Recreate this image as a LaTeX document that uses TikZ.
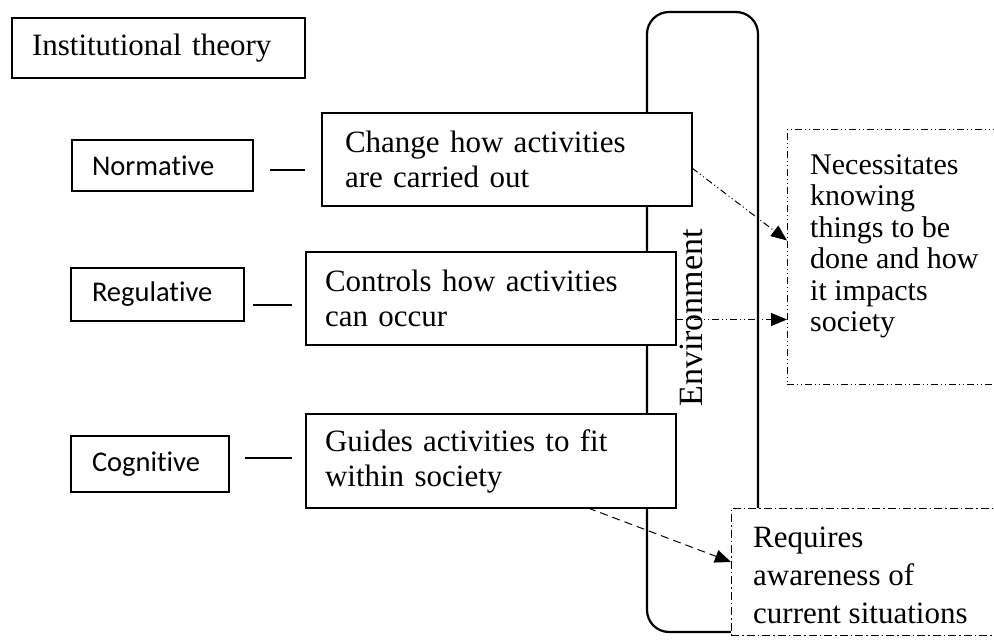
\documentclass[tikz,border=0pt]{standalone}
\usepackage{fontspec}
\setmainfont{Liberation Serif}
\newfontfamily\dgmLabelFont[Ligatures=NoCommon]{Carlito}
\usetikzlibrary{arrows.meta}

% type sizes (1pt of the picture = one unit of the layout grid)
\newcommand\dgmMain{\fontsize{31}{35}\selectfont}
\newcommand\dgmNote{\fontsize{30}{31.5}\selectfont}
\newcommand\dgmReq{\fontsize{31}{38}\selectfont}
\newcommand\dgmEnv{\fontsize{34}{40}\selectfont}
\newcommand\dgmLabel{\dgmLabelFont\fontsize{28.5}{34}\selectfont}

\begin{document}
\begin{tikzpicture}[x=1pt,y=-1pt,
  tbox/.style={draw, line width=1.1pt, fill=white, outer sep=0pt, inner ysep=0pt,
               anchor=north west, align=left, font=\dgmMain},
  lbox/.style={tbox, font=\dgmLabel},
  envbox/.style={draw, line width=2.2pt, rounded corners=22pt, outer sep=0pt},
  dbox/.style={draw, fill=white, line width=1pt, outer sep=0pt, inner sep=0pt,
               anchor=north west},
  ddotpat/.style={dash pattern=on 7pt off 3pt on 1pt off 3pt on 1pt off 3pt},
  dotpat/.style={dash pattern=on 8pt off 3pt on 1.5pt off 3pt},
  notetext/.style={anchor=north west, inner sep=0pt, align=left},
  link/.style={line width=1.1pt},
  flow/.style={line width=1pt, -{Triangle[length=16pt,width=13pt]}},
]
% page area
\fill[white, use as bounding box] (0,0) rectangle (994,644);
\clip (0,0) rectangle (994,644);

% title
\node[tbox, inner xsep=20pt, text width=253pt, minimum height=60pt] (theory) at (12,18)
  {Institutional theory};

% the three pillars
\node[lbox, inner xsep=20pt, text width=141pt, minimum height=51pt] (norm) at (72,140) {Normative};
\node[lbox, inner xsep=21pt, text width=131pt, minimum height=53pt] (reg) at (71,268) {Regulative};
\node[lbox, inner xsep=21pt, text width=116pt, minimum height=56pt] (cog) at (71,436) {Cognitive};

% environment frame
\node[envbox, minimum width=111pt, minimum height=620pt, anchor=north west] (env) at (647,12) {};
\node[rotate=90, inner sep=0pt, font=\dgmEnv] (envlabel) at (691,318) {Environment};

% effects of each pillar
\node[tbox, inner xsep=23pt, text width=324pt, minimum height=93pt] (change) at (322,113)
  {Change how activities\\are carried out};
\node[tbox, inner xsep=19pt, text width=332pt, minimum height=93pt] (ctrl) at (306,252)
  {Controls how activities\\can occur};
\node[tbox, inner xsep=19pt, text width=332pt, minimum height=94pt] (guide) at (306,414)
  {Guides activities to fit\\within society};

% outcomes
\node[dbox, ddotpat, minimum width=240pt, minimum height=255pt] (nbox) at (787,130) {};
\node[notetext, font=\dgmNote] (ntext) at (810,154)
  {Necessitates\\knowing\\things to be\\done and how\\it impacts\\society};
\node[dbox, dotpat, minimum width=290pt, minimum height=127pt] (rbox) at (731,508) {};
\node[notetext, font=\dgmReq] (rtext) at (753,527)
  {Requires\\awareness of\\current situations};

% short links between pillars and effects
\coordinate (nl) at (270,170); \coordinate (nr) at (305,170);
\coordinate (rl) at (253,305); \coordinate (rr) at (292,305);
\coordinate (cl) at (245,458); \coordinate (cr) at (292,458);
\draw[link] (nl) -- (nr);
\draw[link] (rl) -- (rr);
\draw[link] (cl) -- (cr);

% arrows to the outcomes
\draw[flow, ddotpat] ([yshift=-8.5pt]change.east) -- ([yshift=17pt]nbox.west);
\draw[flow, ddotpat] ([yshift=-21pt]ctrl.east) -- ([yshift=-62pt]nbox.west);
\draw[flow, dash pattern=on 8pt off 5pt] ([xshift=97pt]guide.south) -- ([yshift=9.5pt]rbox.west);
\end{tikzpicture}
\end{document}
